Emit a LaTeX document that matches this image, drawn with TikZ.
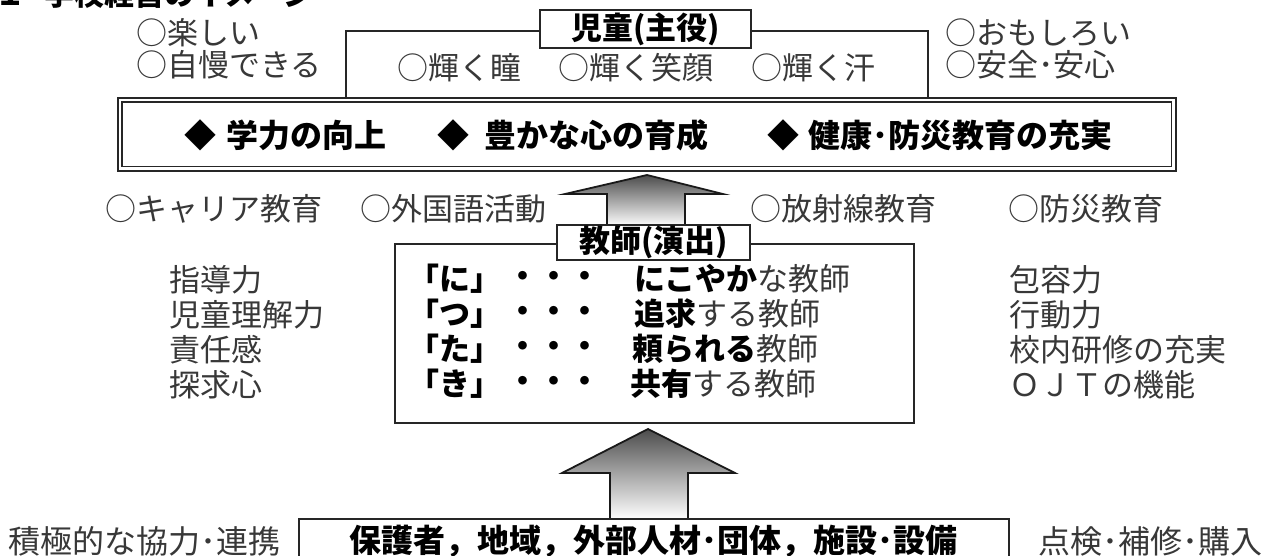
\documentclass[tikz,border=0pt]{standalone}
\usepackage{fontspec}
\setmainfont{Noto Sans CJK JP}
\usetikzlibrary{calc}
\begin{document}
\begin{tikzpicture}[x=1pt,y=-1pt,
 mincho/.style={font=\fontsize{31}{36}\selectfont,text=black!78,inner sep=0pt,anchor=west},
 goth/.style={font=\fontsize{32}{36}\selectfont\bfseries,text=black,inner sep=0pt,anchor=west},
 goths/.style={goth,font=\fontsize{31}{36}\selectfont\bfseries},
 frame/.style={draw=black!85,line width=1.8pt,inner sep=0pt},
 lbl/.style={draw=black!85,line width=1.8pt,fill=white,inner sep=0pt,font=\fontsize{31}{36}\selectfont\bfseries},
 bigarrow/.style={draw=black!90,line width=1.8pt,top color=black!70,bottom color=white,line join=miter}]
\useasboundingbox (0,0) rectangle (1266,555);
% cut-off title
\node[goth,anchor=base west,font=\fontsize{30}{36}\selectfont\bfseries] (titlenum) at (-5,5) {１};
\node[goth,anchor=base west,font=\fontsize{30}{36}\selectfont\bfseries] (title) at (44,5) {学校経営のイメージ};
% top box (children)
\node[frame,minimum width=582pt,minimum height=67pt,anchor=north west] (topbox) at (345,30) {};
\node[lbl,minimum width=211pt,minimum height=38pt] (child) at (645.5,29) {児童(主役)};
\node[mincho] (c1) at (397,68) {○輝く瞳};
\node[mincho] (c2) at (558,68) {○輝く笑顔};
\node[mincho] (c3) at (751,68) {○輝く汗};
\node[mincho] (tl1) at (136,33) {○楽しい};
\node[mincho] (tl2) at (136,65) {○自慢できる};
\node[mincho] (tr1) at (945,33) {○おもしろい};
\node[mincho] (tr2) at (945,65) {○安全･安心};
% goals double box
\node[frame,minimum width=1058pt,minimum height=73pt,anchor=north west] (goals) at (117,97) {};
\draw[line width=1.1pt,draw=black!85] ($(goals.north west)+(5,5)$) rectangle ($(goals.south east)+(-5,-5)$);
\node[goth,anchor=center] (dia1) at (200,135) {◆};
\node[goth] (g1) at (226,135) {学力の向上};
\node[goth,anchor=center] (dia2) at (453,135) {◆};
\node[goth] (g2) at (484,135) {豊かな心の育成};
\node[goth,anchor=center] (dia3) at (783,135) {◆};
\node[goth] (g3) at (808,135) {健康･防災教育の充実};
% arrow 1
\draw[bigarrow] (647,175) -- (723,194) -- (685,194) -- (685,226) -- (607,226) -- (607,194) -- (565,194) -- cycle;
% middle row
\node[mincho] (m1) at (105,209) {○キャリア教育};
\node[mincho] (m2) at (360,209) {○外国語活動};
\node[mincho] (m3) at (750,209) {○放射線教育};
\node[mincho] (m4) at (1008,209) {○防災教育};
% teacher box
\node[frame,minimum width=519pt,minimum height=179pt,anchor=north west] (tbox) at (394,243) {};
\node[lbl,minimum width=193pt,minimum height=35pt] (tlabel) at (653.5,242.5) {教師(演出)};
\node[goths] (k1) at (408,279) {「に」};
\node[goths] (k2) at (408,314) {「つ」};
\node[goths] (k3) at (408,349) {「た」};
\node[goths] (k4) at (408,384) {「き」};
\node[goths,anchor=center] (d1) at (554,279) {・・・};
\node[goths,anchor=center] (d2) at (554,314) {・・・};
\node[goths,anchor=center] (d3) at (554,349) {・・・};
\node[goths,anchor=center] (d4) at (554,384) {・・・};
\node[goths] (t1) at (634,279) {にこやか{\mdseries\color{black!78}な教師}};
\node[goths] (t2) at (634,314) {追求{\mdseries\color{black!78}する教師}};
\node[goths] (t3) at (632,349) {頼られる{\mdseries\color{black!78}教師}};
\node[goths] (t4) at (630,384) {共有{\mdseries\color{black!78}する教師}};
% side lists
\node[mincho] (s1) at (169,280) {指導力};
\node[mincho] (s2) at (169,315) {児童理解力};
\node[mincho] (s3) at (169,350) {責任感};
\node[mincho] (s4) at (169,385) {探求心};
\node[mincho] (q1) at (1009,280) {包容力};
\node[mincho] (q2) at (1009,315) {行動力};
\node[mincho] (q3) at (1009,350) {校内研修の充実};
\node[mincho] (q4) at (1009,385) {ＯＪＴの機能};
% arrow 2
\draw[bigarrow] (648,429) -- (735,473) -- (688,473) -- (688,519) -- (610,519) -- (610,473) -- (562,473) -- cycle;
% bottom box
\node[frame,minimum width=710pt,minimum height=60pt,anchor=north west] (base) at (298,518) {};
\node[goth,anchor=center] (basetxt) at (653,541) {保護者，地域，外部人材･団体，施設･設備};
\node[mincho,font=\fontsize{32}{36}\selectfont] (bl) at (8,541) {積極的な協力･連携};
\node[mincho,font=\fontsize{32}{36}\selectfont] (br) at (1038,541) {点検･補修･購入};
\end{tikzpicture}
\end{document}
